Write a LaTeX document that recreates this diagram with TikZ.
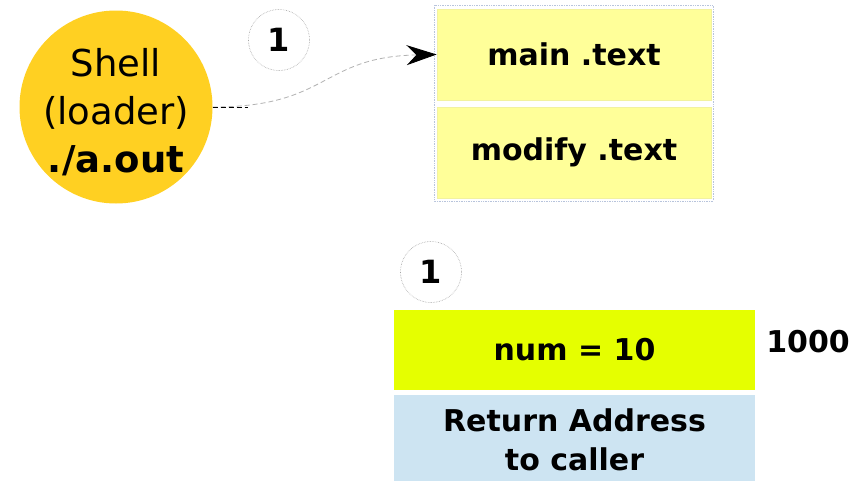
\documentclass[tikz,border=0pt]{standalone}
\usepackage{fontspec}
\setmainfont{DejaVu Sans}
\usetikzlibrary{arrows.meta}
\definecolor{shellyellow}{HTML}{FFD022}
\definecolor{textyellow}{HTML}{FFFF99}
\definecolor{textedge}{HTML}{F2F2A0}
\definecolor{numgreen}{HTML}{E5FF00}
\definecolor{retblue}{HTML}{CDE4F2}
\definecolor{frameblue}{HTML}{B8C4DC}
\tikzset{
  px/.style={x=1pt,y=-1pt},
  badge/.style={circle,draw=gray!70,densely dotted,line width=0.6pt,minimum size=61pt,inner sep=0pt,font=\fontsize{32}{32}\selectfont\bfseries},
  segbox/.style={rectangle,fill=textyellow,draw=textedge,line width=0.8pt,minimum width=274pt,minimum height=91pt,inner sep=0pt,font=\fontsize{30}{36}\selectfont\bfseries},
  stackbox/.style={rectangle,inner sep=0pt,minimum width=361pt,font=\fontsize{30}{36}\selectfont\bfseries,align=center},
}
\begin{document}
\begin{tikzpicture}[px]
\useasboundingbox (0,0) rectangle (867,480);
\fill[white] (0,0) rectangle (867,480);

% the shell that loads the program
\node[circle,fill=shellyellow,minimum size=193pt,inner sep=0pt] (shell) at (116,107) {};
\node[align=center,font=\fontsize{37}{48}\selectfont] (shelltext) at (116,112)
  {Shell\\(loader)\\\textbf{./a.out}};

% step marker for the load
\node[badge] (badgeA) at (279,40) {1};

% text segments of the executable
\draw[frameblue,densely dotted,line width=0.7pt] (434,5) rectangle (713,201);
\node[segbox] (main) at (574,54.5) {main .text};
\node[segbox] (modify) at (574,152.5) {modify .text};

% loader jumps to main
\draw[gray!60,dash pattern=on 5pt off 3pt,line width=0.8pt,-{Stealth[length=30pt,width=20pt,black]}]
  (shell.east) .. controls (330,107) and (320,57) .. (main.west);
\draw[black,dash pattern=on 5pt off 3pt,line width=0.8pt] (shell.east) -- (248,107);

% stack frame
\node[badge] (badgeB) at (431,272) {1};
\node[stackbox,fill=numgreen,minimum height=80pt] (num) at (574.5,350) {num = 10};
\node[stackbox,fill=retblue,minimum height=90pt,anchor=north] (ret) at (574.5,395)
  {Return Address\\[3pt]to caller};
\node[font=\fontsize{30}{36}\selectfont\bfseries] (addr) at (808,342) {1000};
\end{tikzpicture}
\end{document}
